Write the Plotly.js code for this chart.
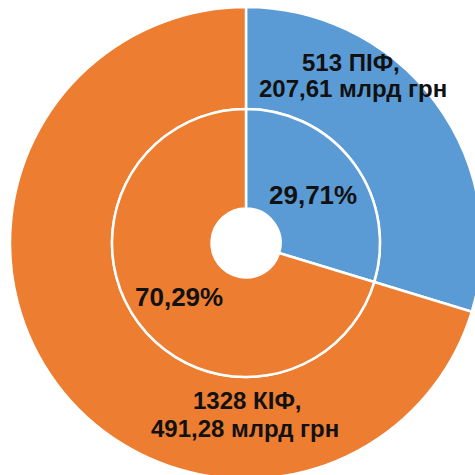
<!DOCTYPE html>
<html>
<head>
<meta charset="utf-8">
<script src="https://cdn.plot.ly/plotly-3.0.1.min.js"></script>
<style>
  html, body { margin: 0; padding: 0; width: 475px; height: 475px; overflow: hidden; background: #fff; }
  #chart { position: absolute; left: 10px; top: 7px; width: 472px; height: 472px; }
</style>
</head>
<body>
<div id="chart"></div>
<script>
// Data
const fundTypes = ['ПІФ', 'КІФ'];
const fundCounts = [513, 1328];
const fundAssets = [207.61, 491.28];   // млрд грн
const fundShares = [29.71, 70.29];     // %
const colors = ['#5B9BD5', '#ED7D31'];

const W = 472, H = 472, OX = 10, OY = 7;
function px(x) { return (x - OX) / W; }
function py(y) { return 1 - (y - OY) / H; }
function fmt(v) { return v.toFixed(2).replace('.', ','); }

const rOuter = 236, rMid = 134, rHole = 34.5;
const innerHalf = rMid / W;

const outer = {
  type: 'pie', values: fundAssets, labels: fundTypes, sort: false,
  direction: 'clockwise', rotation: 0,
  hole: rMid / rOuter,
  domain: {x: [0, 1], y: [0, 1]},
  marker: {colors: colors, line: {color: '#ffffff', width: 2.5}},
  textinfo: 'none', hoverinfo: 'none', showlegend: false
};
const inner = {
  type: 'pie', values: fundAssets, labels: fundTypes, sort: false,
  direction: 'clockwise', rotation: 0,
  hole: rHole / rMid,
  domain: {x: [0.5 - innerHalf, 0.5 + innerHalf], y: [0.5 - innerHalf, 0.5 + innerHalf]},
  marker: {colors: colors, line: {color: '#ffffff', width: 2.5}},
  textinfo: 'none', hoverinfo: 'none', showlegend: false
};

const lblFont = {family: 'Liberation Sans, Arial, sans-serif', size: 24, color: '#111111', weight: 'bold'};
const pctFont = {family: 'Liberation Sans, Arial, sans-serif', size: 26, color: '#111111', weight: 'bold'};

function ann(text, x, y, font) {
  return {text: '<b>' + text + '</b>', x: px(x), y: py(y), xref: 'paper', yref: 'paper',
          xanchor: 'center', yanchor: 'middle', showarrow: false, font: font};
}

const annotations = [
  ann(fundCounts[0] + ' ' + fundTypes[0] + ',', 351, 62, lblFont),
  ann(fmt(fundAssets[0]) + ' млрд грн', 352.5, 88, lblFont),
  ann(fundCounts[1] + ' ' + fundTypes[1] + ',', 247.5, 400, lblFont),
  ann(fmt(fundAssets[1]) + ' млрд грн', 245, 428, lblFont),
  ann(fmt(fundShares[0]) + '%', 313, 195, pctFont),
  ann(fmt(fundShares[1]) + '%', 179, 297, pctFont)
];

Plotly.newPlot('chart', [outer, inner], {
  width: W, height: H,
  margin: {l: 0, r: 0, t: 0, b: 0, pad: 0},
  paper_bgcolor: '#ffffff', plot_bgcolor: '#ffffff',
  showlegend: false,
  annotations: annotations
}, {displayModeBar: false, staticPlot: true});
</script>
</body>
</html>
